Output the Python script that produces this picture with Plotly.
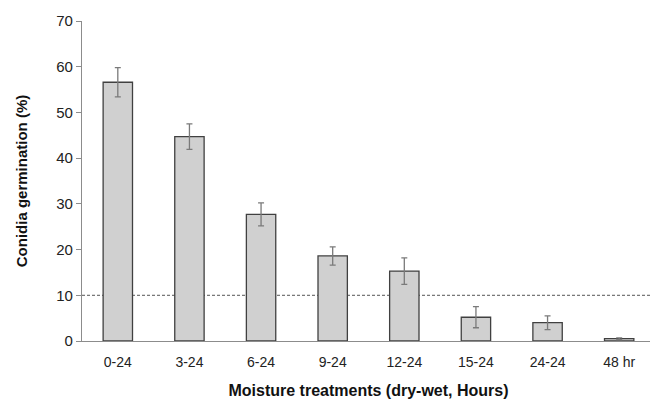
import plotly.graph_objects as go

categories = ["0-24", "3-24", "6-24", "9-24", "12-24", "15-24", "24-24", "48 hr"]
germination = [56.6, 44.7, 27.7, 18.6, 15.3, 5.2, 4.0, 0.5]
errors = [3.2, 2.8, 2.5, 2.0, 2.9, 2.3, 1.5, 0.2]
threshold = 10
y_ticks = [0, 10, 20, 30, 40, 50, 60, 70]

fig = go.Figure()
fig.add_trace(go.Bar(
    x=categories, y=germination,
    marker=dict(color="#d0d0d0", line=dict(color="#404040", width=1.3)),
    error_y=dict(type="data", array=errors, color="#7a7a7a", thickness=1.3, width=3),
    width=0.41,
    showlegend=False,
))
fig.add_shape(type="line", xref="paper", x0=0, x1=1, yref="y", y0=threshold, y1=threshold,
              line=dict(color="#555555", width=1, dash="3px,2px"), layer="below")

fig.update_layout(
    width=650, height=395,
    margin=dict(l=74, r=3, t=13, b=62),
    plot_bgcolor="white", paper_bgcolor="white",
    font=dict(family="Liberation Sans, Arial, sans-serif", size=13, color="#222222"),
    xaxis=dict(
        automargin=False,
        showline=True, linecolor="#8c8c8c", linewidth=1.3,
        ticks="", showgrid=False,
        ticklabelstandoff=8,
        tickfont=dict(size=14, color="#222222"),
        title=dict(text="<b>Moisture treatments (dry-wet, Hours)</b>", font=dict(size=16, color="#111111"), standoff=15),
    ),
    yaxis=dict(
        automargin=False,
        range=[0, 70], tickvals=y_ticks,
        showline=True, linecolor="#8c8c8c", linewidth=1.3,
        ticks="outside", ticklen=5, tickcolor="#8c8c8c", tickwidth=1.3,
        showgrid=False, zeroline=False,
        tickfont=dict(size=15, color="#222222"),
        title=dict(text="<b>Conidia germination (%)</b>", font=dict(size=15, color="#111111"), standoff=24),
    ),
)

fig.write_html("out.html")
